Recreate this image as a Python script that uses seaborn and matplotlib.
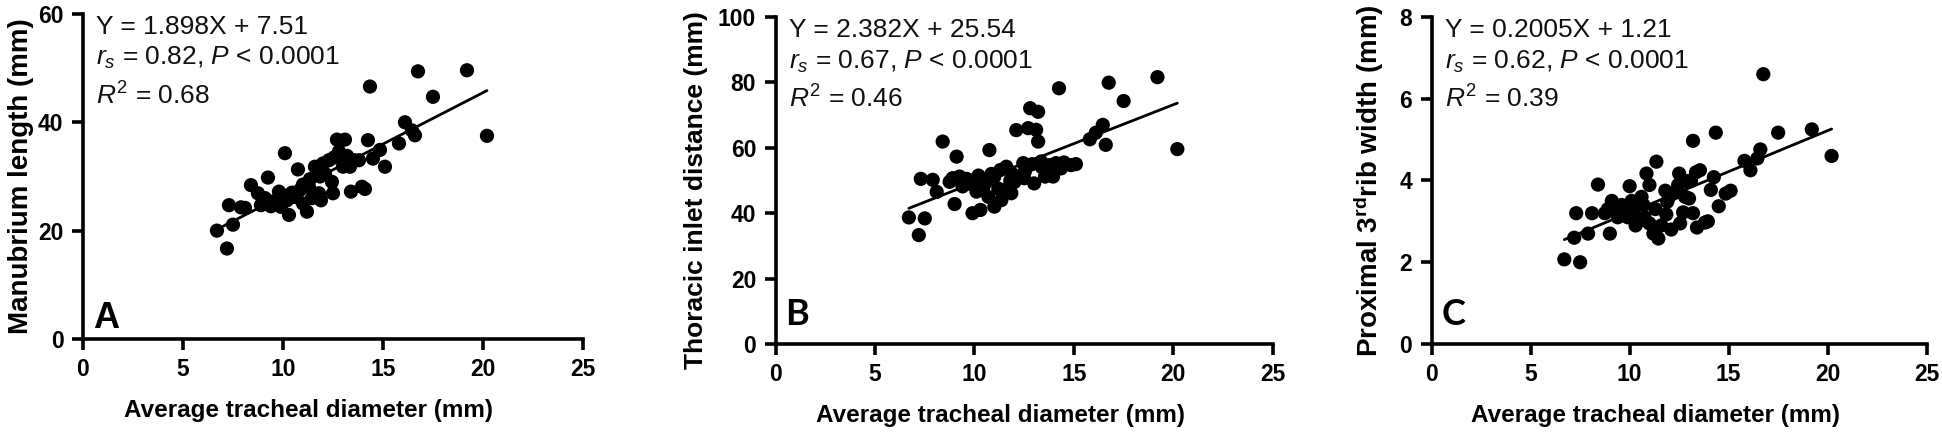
import numpy as np
import pandas as pd
import matplotlib
matplotlib.use('Agg')
import matplotlib.pyplot as plt
import seaborn as sns

# average tracheal diameter (mm), shared by the three panels
tracheal_diameter = [6.7, 7.2, 7.3, 7.5, 7.9, 8.1, 8.4, 8.75, 8.9, 9.0,
                     9.1, 9.25, 9.4, 9.6, 9.8, 9.9, 10.0, 10.1, 10.2, 10.3,
                     10.45, 10.6, 10.7, 10.75, 10.85, 11.0, 11.0, 11.2, 11.3, 11.35,
                     11.45, 11.6, 11.8, 11.85, 11.9, 12.0, 12.1, 12.3, 12.45, 12.5,
                     12.55, 12.7, 12.8, 12.9, 13.0, 13.1, 13.2, 13.2, 13.35, 13.4,
                     13.55, 13.8, 13.95, 14.1, 14.25, 14.35, 14.5, 14.85, 15.1, 15.8,
                     16.1, 16.45, 16.6, 16.75, 17.5, 19.2, 20.2]

manubrium_length = [20.0, 16.7, 24.7, 21.1, 24.3, 24.2, 28.4, 26.9, 24.7, 25.0,
                    26.0, 29.8, 24.5, 25.5, 27.2, 24.4, 26.5, 34.3, 25.6, 22.9,
                    27.0, 26.2, 26.9, 31.3, 27.5, 28.5, 25.0, 23.5, 28.1, 29.5,
                    26.0, 31.8, 26.9, 30.0, 25.6, 32.4, 30.5, 33.0, 29.0, 26.9,
                    33.5, 36.8, 34.6, 33.6, 31.8, 36.8, 33.8, 32.5, 31.8, 27.2,
                    33.0, 33.0, 28.1, 27.7, 36.7, 46.6, 33.3, 34.9, 31.8, 36.1,
                    40.0, 38.5, 37.6, 49.4, 44.7, 49.6, 37.5]

thoracic_inlet = [38.7, 33.3, 50.5, 38.4, 50.2, 46.5, 61.9, 49.6, 50.7, 42.8,
                  57.3, 51.2, 48.2, 50.5, 49.0, 40.0, 50.2, 46.6, 51.5, 41.0,
                  48.0, 49.6, 45.0, 59.3, 52.0, 42.0, 51.2, 47.5, 53.2, 44.0,
                  47.1, 54.2, 50.0, 46.1, 52.0, 49.5, 65.4, 51.2, 55.3, 50.7,
                  53.0, 66.0, 72.1, 55.0, 49.1, 65.5, 71.0, 61.9, 55.8, 54.0,
                  51.2, 54.7, 51.2, 55.3, 78.2, 53.7, 55.5, 54.7, 55.0, 62.6,
                  64.6, 67.0, 60.9, 79.9, 74.3, 81.6, 59.6]

rib_width = [2.07, 2.6, 3.2, 2.0, 2.7, 3.2, 3.9, 3.2, 3.3, 2.7,
             3.5, 3.3, 3.1, 3.4, 3.2, 3.1, 3.86, 3.5, 3.3, 2.9,
             3.0, 3.6, 3.4, 3.1, 4.17, 2.95, 3.89, 2.7, 3.3, 4.46,
             2.58, 2.9, 3.75, 3.17, 3.48, 3.6, 2.8, 3.7, 3.89, 4.17,
             2.95, 3.22, 3.6, 3.98, 3.56, 4.0, 4.97, 3.2, 4.2, 2.85,
             4.25, 2.97, 3.0, 3.77, 4.08, 5.17, 3.37, 3.68, 3.75, 4.48,
             4.25, 4.54, 4.76, 6.6, 5.17, 5.25, 4.6]

panel_letters = ['A', 'B', 'C']
y_labels = ['Manubrium length (mm)', 'Thoracic inlet distance (mm)',
            r'Proximal 3$^{\mathbf{rd}}$rib width (mm)']
y_max = [60, 100, 8]
y_step = [20, 20, 2]
slopes = [1.898, 2.382, 0.2005]
intercepts = [7.51, 25.54, 1.21]
eq_text = ['Y = 1.898X + 7.51', 'Y = 2.382X + 25.54', 'Y = 0.2005X + 1.21']
rs_text = ['0.82', '0.67', '0.62']
r2_text = ['0.68', '0.46', '0.39']

sns.set_style('ticks')
plt.rcParams['font.family'] = ['Liberation Sans', 'DejaVu Sans']
plt.rcParams['mathtext.fontset'] = 'custom'
plt.rcParams['mathtext.rm'] = 'Liberation Sans'
plt.rcParams['mathtext.it'] = 'Liberation Sans:italic'
plt.rcParams['mathtext.bf'] = 'Liberation Sans:bold'

fig = plt.figure(figsize=(19.42, 4.34), dpi=100)
positions = [[0.0427, 0.2189, 0.2575, 0.749],
             [0.3994, 0.2074, 0.2560, 0.7535],
             [0.7372, 0.2074, 0.2549, 0.7535]]
ylabel_x = [-0.098, -0.136, -0.092]
ylabel_y = [0.5, 0.47, 0.5]
ylabel_size = [20, 19, 20]
letter_y = [0.034, 0.058, 0.058]
letter_font = ['Liberation Sans', 'Lato', 'Lato']

y_series = [manubrium_length, thoracic_inlet, rib_width]

for i in range(3):
    ax = fig.add_axes(positions[i])
    df = pd.DataFrame({'x': tracheal_diameter, 'y': y_series[i]})

    sns.scatterplot(data=df, x='x', y='y', ax=ax, s=105, color='black',
                    edgecolor='none', clip_on=False, zorder=3)

    # fitted line from the reported equation
    x_fit = np.array([df.x.min(), df.x.max()])
    fit = pd.DataFrame({'x': x_fit, 'y': slopes[i] * x_fit + intercepts[i]})
    sns.lineplot(data=fit, x='x', y='y', ax=ax, color='black', linewidth=2.0,
                 zorder=4)

    ax.set_xlim(0, 25)
    ax.set_ylim(0, y_max[i])
    ax.set_xticks(np.arange(0, 26, 5))
    ax.set_yticks(np.arange(0, y_max[i] + 0.01, y_step[i]))
    sns.despine(ax=ax)
    for side in ['left', 'bottom']:
        ax.spines[side].set_linewidth(2.6)
        ax.spines[side].set_color('black')
    ax.tick_params(length=8, width=2.6, direction='out', labelsize=16.5,
                   pad=6, color='black', labelcolor='black')
    for lab in ax.get_xticklabels() + ax.get_yticklabels():
        lab.set_fontweight('bold')

    ax.set_xlabel('Average tracheal diameter (mm)', fontsize=17.5,
                  fontweight='bold', color='black')
    ax.set_ylabel(y_labels[i], fontsize=ylabel_size[i], fontweight='bold',
                  color='black')
    ax.xaxis.set_label_coords(0.452, -0.185)
    ax.yaxis.set_label_coords(ylabel_x[i], ylabel_y[i])

    ax.text(0.026, 0.938, eq_text[i], transform=ax.transAxes, fontsize=19,
            va='baseline', color='#111111')
    ax.text(0.026, 0.843, r'$r_s$ = ' + rs_text[i] + r', $P$ < 0.0001',
            transform=ax.transAxes, fontsize=19, va='baseline', color='#111111')
    ax.text(0.026, 0.722, r'$R^2$ = ' + r2_text[i], transform=ax.transAxes,
            fontsize=19, va='baseline', color='#111111')
    ax.text(0.02, letter_y[i], panel_letters[i], transform=ax.transAxes,
            fontsize=26, fontweight='bold', family=letter_font[i],
            va='baseline', color='black')

plt.savefig('out.png', dpi=100)
